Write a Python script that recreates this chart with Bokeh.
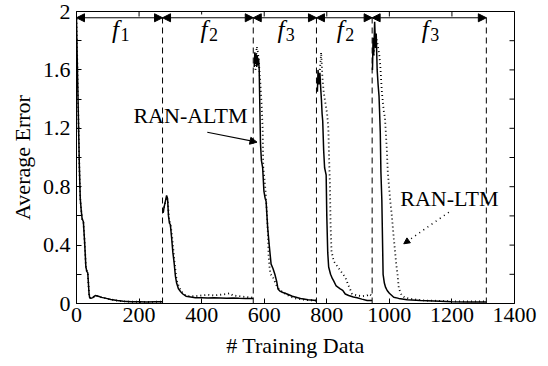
import math
from bokeh.plotting import figure
from bokeh.models import FixedTicker, Arrow, NormalHead, Range1d
from bokeh.core.properties import value
from bokeh.embed import file_html
from bokeh.resources import INLINE

FONT = "Liberation Serif"

# ---------------- data ----------------
xticks = [0, 200, 400, 600, 800, 1000, 1200, 1400]
xtick_labels = ["0", "200", "400", "600", "800", "1000", "1200", "1400"]
yticks = [0, 0.4, 0.8, 1.2, 1.6, 2]
ytick_labels = ["0", "0.4", "0.8", "1.2", "1.6", "2"]
yminor = [0.2, 0.6, 1.0, 1.4, 1.8]

# task boundaries and names
bounds = [0, 275, 565, 767, 945, 1310]
task_names = ["1", "2", "3", "2", "3"]

# RAN-ALTM (solid), per task segment
altm_x1 = [0, 3, 6, 9, 12, 15, 18, 22, 26, 30, 33, 36, 38, 40, 42, 46, 52, 60, 70, 80, 95, 110, 130, 150, 175, 200, 225, 250, 275]
altm_y1 = [1.95, 1.6, 1.28, 0.95, 0.72, 0.64, 0.58, 0.56, 0.42, 0.25, 0.22, 0.21, 0.14, 0.07, 0.04, 0.035, 0.04, 0.055, 0.05, 0.042, 0.035, 0.028, 0.02, 0.015, 0.012, 0.012, 0.01, 0.012, 0.012]
altm_x2 = [277, 280, 284, 288, 291, 294, 297, 300, 304, 308, 312, 316, 320, 326, 333, 340, 350, 365, 380, 400, 420, 440, 460, 480, 500, 520, 540, 565]
altm_y2 = [0.62, 0.66, 0.7, 0.74, 0.72, 0.6, 0.55, 0.54, 0.45, 0.35, 0.28, 0.19, 0.14, 0.1, 0.08, 0.065, 0.05, 0.045, 0.04, 0.04, 0.038, 0.04, 0.038, 0.036, 0.038, 0.036, 0.035, 0.035]
altm_x3 = [568, 570, 572, 574, 576, 578, 580, 582, 584, 586, 588, 591, 595, 599, 603, 606, 611, 616, 622, 628, 634, 640, 644, 650, 660, 673, 690, 716, 740, 767]
altm_y3 = [1.62, 1.72, 1.64, 1.71, 1.62, 1.7, 1.63, 1.68, 1.6, 1.35, 1.1, 0.98, 0.93, 0.77, 0.72, 0.7, 0.52, 0.4, 0.27, 0.24, 0.2, 0.15, 0.1, 0.085, 0.075, 0.065, 0.05, 0.034, 0.025, 0.02]
altm_x4 = [770, 772, 775, 778, 781, 783, 785, 787, 790, 793, 796, 798, 800, 803, 806, 812, 818, 822, 830, 843, 851, 859, 870, 885, 897, 912, 929, 945]
altm_y4 = [1.45, 1.6, 1.5, 1.58, 1.46, 1.39, 1.3, 1.25, 1.05, 0.93, 0.9, 0.88, 0.6, 0.35, 0.25, 0.2, 0.17, 0.155, 0.12, 0.1, 0.09, 0.065, 0.055, 0.045, 0.039, 0.03, 0.02, 0.02]
altm_x5 = [946, 948, 950, 953, 956, 958, 961, 964, 967, 969, 971, 973, 976, 978, 980, 984, 988, 993, 1000, 1014, 1030, 1057, 1100, 1163, 1200, 1250, 1301, 1310]
altm_y5 = [1.6, 1.82, 1.7, 1.93, 1.75, 1.85, 1.6, 1.5, 1.42, 1.3, 1.17, 0.9, 0.705, 0.45, 0.2, 0.14, 0.11, 0.089, 0.07, 0.043, 0.035, 0.025, 0.02, 0.015, 0.012, 0.01, 0.01, 0.01]

# RAN-LTM (dotted), per task segment
ltm_x1 = [0, 3, 6, 9, 12, 15, 18, 22, 26, 30, 33, 36, 38, 40, 42, 46, 52, 60, 70, 80, 95, 110, 130, 150, 175, 200, 225, 250, 275]
ltm_y1 = [1.95, 1.6, 1.28, 0.95, 0.72, 0.64, 0.58, 0.56, 0.42, 0.25, 0.22, 0.21, 0.14, 0.07, 0.04, 0.035, 0.04, 0.055, 0.05, 0.042, 0.035, 0.028, 0.02, 0.015, 0.012, 0.012, 0.01, 0.012, 0.012]
ltm_x2 = [277, 282, 288, 292, 296, 300, 305, 310, 315, 320, 328, 336, 345, 360, 380, 400, 420, 440, 460, 480, 490, 500, 520, 540, 565]
ltm_y2 = [0.63, 0.68, 0.73, 0.7, 0.57, 0.55, 0.47, 0.36, 0.25, 0.16, 0.11, 0.08, 0.06, 0.05, 0.05, 0.055, 0.06, 0.055, 0.06, 0.065, 0.07, 0.055, 0.05, 0.045, 0.04]
ltm_x3 = [572, 576, 580, 584, 588, 592, 595, 597, 601, 605, 609, 612, 614, 617, 620, 626, 632, 640, 650, 665, 680, 700, 730, 767]
ltm_y3 = [1.6, 1.76, 1.72, 1.62, 1.5, 1.35, 1.2, 0.93, 0.85, 0.75, 0.6, 0.47, 0.33, 0.25, 0.2, 0.19, 0.16, 0.12, 0.09, 0.07, 0.05, 0.035, 0.025, 0.02]
ltm_x4 = [778, 782, 786, 790, 795, 801, 805, 808, 810, 812, 815, 822, 832, 843, 859, 870, 881, 897, 912, 929, 937, 945]
ltm_y4 = [1.6, 1.72, 1.55, 1.45, 1.38, 1.3, 1.2, 0.95, 0.82, 0.55, 0.36, 0.29, 0.26, 0.226, 0.18, 0.12, 0.066, 0.055, 0.05, 0.055, 0.065, 0.05]
ltm_x5 = [950, 956, 962, 968, 971, 976, 982, 986, 989, 992, 995, 999, 1003, 1008, 1014, 1018, 1022, 1026, 1030, 1035, 1040, 1050, 1067, 1090, 1120, 1160, 1200, 1250, 1300, 1310]
ltm_y5 = [1.7, 1.85, 1.78, 1.7, 1.63, 1.45, 1.32, 1.27, 1.16, 1.05, 0.9, 0.8, 0.7, 0.6, 0.45, 0.36, 0.27, 0.2, 0.11, 0.075, 0.055, 0.04, 0.032, 0.025, 0.02, 0.018, 0.015, 0.015, 0.015, 0.015]

# annotations
task_arrow_y = 1.957
task_label_y = 1.88
altm_label = "RAN-ALTM"
altm_label_xy = (182, 1.29)
altm_arrow_x = [418, 577]
altm_arrow_y = [1.173, 1.105]
ltm_label = "RAN-LTM"
ltm_label_xy = (1035, 0.72)
ltm_arrow_x = [1190, 1046]
ltm_arrow_y = [0.625, 0.409]

# ---------------- figure ----------------
p = figure(width=548, height=366, x_range=Range1d(0, 1400), y_range=Range1d(0, 2),
           output_backend="svg", toolbar_location=None,
           min_border_left=76, min_border_right=34, min_border_top=11, min_border_bottom=63,
           x_axis_label="# Training Data", y_axis_label="Average Error")
p.xgrid.visible = False
p.ygrid.visible = False
p.outline_line_color = "black"
p.outline_line_width = 1
p.background_fill_color = "white"
p.border_fill_color = "white"

p.xaxis.ticker = FixedTicker(ticks=xticks)
p.xaxis.major_label_overrides = dict(zip(xticks, xtick_labels))
p.yaxis.ticker = FixedTicker(ticks=yticks, minor_ticks=yminor)
p.yaxis.major_label_overrides = dict(zip(yticks, ytick_labels))

for ax in (p.xaxis[0], p.yaxis[0]):
    ax.major_tick_in = 5
    ax.major_tick_out = 0
    ax.minor_tick_in = 5
    ax.minor_tick_out = 0
    ax.axis_line_color = "black"
    ax.major_tick_line_color = "black"
    ax.minor_tick_line_color = "black"
    ax.major_label_text_font = FONT
    ax.major_label_text_font_size = "22px"
    ax.major_label_text_color = "black"
    ax.axis_label_text_font = FONT
    ax.axis_label_text_font_size = "22px"
    ax.axis_label_text_font_style = "normal"
    ax.axis_label_text_color = "black"

p.xaxis.major_label_standoff = 4
p.xaxis.axis_label_standoff = 8
p.yaxis.major_label_standoff = 6
p.yaxis.axis_label_standoff = 5

# mirrored inward ticks on top and right edges (markers clipped by the frame)
p.scatter(x=xticks, y=[2] * len(xticks), marker="dash", size=10, angle=math.pi / 2,
          line_color="black", line_width=1)
p.scatter(x=[1400] * (len(yticks) + len(yminor)), y=yticks + yminor, marker="dash", size=10,
          line_color="black", line_width=1)

# task boundaries (dashed vertical lines)
p.segment(x0=bounds[1:], y0=[0] * (len(bounds) - 1), x1=bounds[1:], y1=[1.97] * (len(bounds) - 1),
          line_color="black", line_width=1, line_dash="6 4")

# curves
ltm_xs = [ltm_x1, ltm_x2, ltm_x3, ltm_x4, ltm_x5]
ltm_ys = [ltm_y1, ltm_y2, ltm_y3, ltm_y4, ltm_y5]
altm_xs = [altm_x1, altm_x2, altm_x3, altm_x4, altm_x5]
altm_ys = [altm_y1, altm_y2, altm_y3, altm_y4, altm_y5]
p.multi_line(xs=ltm_xs, ys=ltm_ys, line_color="black", line_width=1.8, line_dash="1 3")
p.multi_line(xs=altm_xs, ys=altm_ys, line_color="black", line_width=1.5)

# task arrows across the top
for b0, b1 in zip(bounds[:-1], bounds[1:]):
    p.add_layout(Arrow(x_start=b0, y_start=task_arrow_y, x_end=b1, y_end=task_arrow_y,
                       line_color="black", line_width=1,
                       start=NormalHead(size=8, fill_color="black", line_color="black"),
                       end=NormalHead(size=8, fill_color="black", line_color="black")))

mids = [(b0 + b1) / 2 for b0, b1 in zip(bounds[:-1], bounds[1:])]
p.rect(x=mids, y=[1.915] * len(mids), width=28, height=0.13, width_units="screen",
       fill_color="white", line_color=None)
p.text(x=mids, y=[task_label_y] * len(mids), text=["f"] * len(mids), x_offset=-4,
       text_font=value(FONT), text_font_style="italic", text_font_size="25px",
       text_align="center", text_baseline="middle", text_color="black")
p.text(x=mids, y=[task_label_y] * len(mids), text=task_names, x_offset=1, y_offset=5,
       text_font=value(FONT), text_font_size="18px",
       text_align="left", text_baseline="middle", text_color="black")

# annotations
p.text(x=[altm_label_xy[0]], y=[altm_label_xy[1]], text=[altm_label],
       text_font=value(FONT), text_font_size="22px", text_align="left", text_baseline="middle",
       text_color="black")
p.add_layout(Arrow(x_start=altm_arrow_x[0], y_start=altm_arrow_y[0], x_end=altm_arrow_x[1], y_end=altm_arrow_y[1],
                   line_color="black", line_width=1.2,
                   end=NormalHead(size=7, fill_color="black", line_color="black")))
p.text(x=[ltm_label_xy[0]], y=[ltm_label_xy[1]], text=[ltm_label],
       text_font=value(FONT), text_font_size="22px", text_align="left", text_baseline="middle",
       text_color="black")
p.add_layout(Arrow(x_start=ltm_arrow_x[0], y_start=ltm_arrow_y[0], x_end=ltm_arrow_x[1], y_end=ltm_arrow_y[1],
                   line_color="black", line_width=1.5, line_dash="1 4",
                   end=NormalHead(size=6, fill_color="black", line_color="black")))

open("out.html", "w").write(file_html(p, INLINE))
